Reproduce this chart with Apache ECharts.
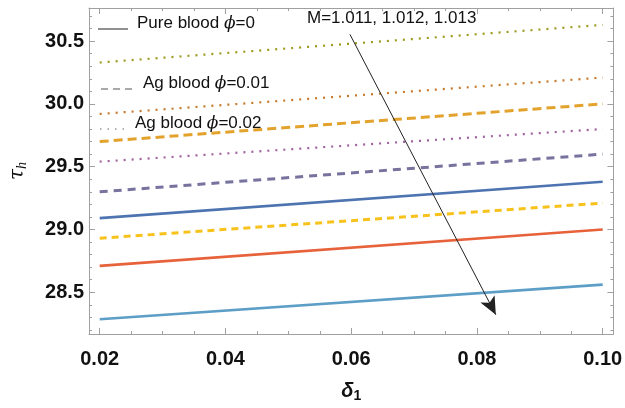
<!DOCTYPE html>
<html>
<head>
<meta charset="utf-8">
<script src="https://cdn.jsdelivr.net/npm/echarts@6/dist/echarts.min.js"></script>
<style>
  html, body { margin: 0; padding: 0; background: #fff; }
  #chart { width: 625px; height: 408px; }
</style>
</head>
<body>
<div id="chart"></div>
<script>
// delta_1 endpoints, the curves are straight lines
const deltaValues = [0.02, 0.10]

// pure blood, phi = 0 (solid)
const pureM1 = [29.09, 29.38]
const pureM2 = [28.71, 29.00]
const pureM3 = [28.285, 28.56]
// Ag blood, phi = 0.01 (dashed)
const ag01M1 = [29.70, 30.00]
const ag01M2 = [29.30, 29.60]
const ag01M3 = [28.93, 29.21]
// Ag blood, phi = 0.02 (dotted)
const ag02M1 = [30.33, 30.63]
const ag02M2 = [29.92, 30.21]
const ag02M3 = [29.54, 29.80]

const xTicks = [0.02, 0.04, 0.06, 0.08, 0.10]
const xMinorTicks = [0.025, 0.03, 0.035, 0.045, 0.05, 0.055, 0.065, 0.07, 0.075, 0.085, 0.09, 0.095]
const yTicks = [28.5, 29.0, 29.5, 30.0, 30.5]
const yMinorTicks = [28.2, 28.3, 28.4, 28.6, 28.7, 28.8, 28.9, 29.1, 29.2, 29.3, 29.4,
  29.6, 29.7, 29.8, 29.9, 30.1, 30.2, 30.3, 30.4, 30.6, 30.7]

const X_MIN = 0.0183
const X_MAX = 0.1017
const Y_MIN = 28.167
const Y_MAX = 30.764

const frameColor = '#a0a0a0'
const labelFont = { fontFamily: 'Liberation Sans', fontWeight: 'bold', fontSize: 20, color: '#111' }

const toPoints = (vals) => vals.map((v, i) => [deltaValues[i], v])

const makeLine = (name, vals, color, type, width) => ({
  name,
  type: 'line',
  data: toPoints(vals),
  symbol: 'none',
  silent: true,
  lineStyle: { color, type, width, cap: 'butt' }
})

const tickAxis = (position, values, len, showLine, extra) => Object.assign({
  type: 'value',
  position,
  min: position === 'bottom' || position === 'top' ? X_MIN : Y_MIN,
  max: position === 'bottom' || position === 'top' ? X_MAX : Y_MAX,
  axisLine: { show: showLine, onZero: false, lineStyle: { color: frameColor, width: 1 } },
  axisTick: { show: true, inside: true, length: len, customValues: values, lineStyle: { color: frameColor } },
  axisLabel: { show: false },
  splitLine: { show: false }
}, extra || {})

const legendText = (text, left, top) => ({
  type: 'text', left, top, z: 10,
  style: {
    text, fontFamily: 'Liberation Sans', fontSize: 17, fill: '#111',
    rich: { p: { fontFamily: 'DejaVu Serif', fontStyle: 'italic', fontSize: 17, fill: '#111' } }
  }
})

const chart = echarts.init(document.getElementById('chart'), null, { renderer: 'canvas' })

const option = {
  animation: false,
  backgroundColor: '#fff',
  grid: { left: 81, right: 11, top: 8, bottom: 65 },
  xAxis: [
    tickAxis('bottom', xTicks, 6, true, {
      axisLabel: Object.assign({ show: true, customValues: xTicks, margin: 15, formatter: (v) => v.toFixed(2) }, labelFont),
      name: '{d|δ}{s|1}',
      nameLocation: 'middle',
      nameGap: 45,
      nameTextStyle: {
        rich: {
          d: { fontFamily: 'Liberation Sans', fontStyle: 'italic', fontWeight: 'bold', fontSize: 20, color: '#111' },
          s: { fontFamily: 'Liberation Sans', fontWeight: 'bold', fontSize: 14, color: '#111', verticalAlign: 'bottom', padding: [10, 0, 0, 0] }
        }
      }
    }),
    tickAxis('bottom', xMinorTicks, 3, false),
    tickAxis('top', xTicks, 6, true),
    tickAxis('top', xMinorTicks, 3, false)
  ],
  yAxis: [
    tickAxis('left', yTicks, 6, true, {
      axisLabel: Object.assign({ show: true, customValues: yTicks, margin: 5, formatter: (v) => v.toFixed(1) }, labelFont),
      name: '{t|τ}{s|h}',
      nameLocation: 'middle',
      nameGap: 60,
      nameRotate: 90,
      nameTextStyle: {
        rich: {
          t: { fontFamily: 'DejaVu Serif', fontStyle: 'italic', fontSize: 20, color: '#111' },
          s: { fontFamily: 'Liberation Serif', fontStyle: 'italic', fontSize: 14, color: '#111', padding: [8, 0, 0, 0] }
        }
      }
    }),
    tickAxis('left', yMinorTicks, 3, false),
    tickAxis('right', yTicks, 6, true),
    tickAxis('right', yMinorTicks, 3, false)
  ],
  series: [
    makeLine('ag02M1', ag02M1, '#9c9a1c', [2, 6], 2.2),
    makeLine('ag02M2', ag02M2, '#c8782a', [2, 6], 2.2),
    makeLine('ag02M3', ag02M3, '#a2609e', [2, 6], 2.2),
    makeLine('ag01M1', ag01M1, '#e3a22c', [9, 5], 3),
    makeLine('ag01M2', ag01M2, '#77739e', [8, 6], 3),
    makeLine('ag01M3', ag01M3, '#f7c21c', [7, 5], 3),
    makeLine('pureM1', pureM1, '#4d74b0', 'solid', 2.6),
    makeLine('pureM2', pureM2, '#e7623a', 'solid', 2.6),
    Object.assign(makeLine('pureM3', pureM3, '#5d9ec7', 'solid', 2.6), {
      markLine: {
        silent: true,
        symbol: ['none', 'arrow'],
        symbolSize: [12, 18],
        label: { show: false },
        lineStyle: { color: '#222', type: 'solid', width: 1 },
        data: [[{ coord: [0.0598, 30.554] }, { coord: [0.0830, 28.32] }]]
      }
    })
  ],
  graphic: [
    { type: 'line', shape: { x1: 98, y1: 29, x2: 128, y2: 29 }, style: { stroke: '#222', lineWidth: 1 } },
    { type: 'line', shape: { x1: 101, y1: 89, x2: 137, y2: 89 }, style: { stroke: '#555', lineWidth: 1.2, lineDash: [7, 5] } },
    { type: 'line', shape: { x1: 100, y1: 129, x2: 128, y2: 129 }, style: { stroke: '#666', lineWidth: 1.2, lineDash: [1.5, 6] } },
    legendText('Pure blood {p|ϕ}=0', 137, 15),
    legendText('Ag blood {p|ϕ}=0.01', 143, 75),
    legendText('Ag blood {p|ϕ}=0.02', 135, 115),
    {
      type: 'text', left: 307, top: 10, z: 10,
      style: { text: 'M=1.011, 1.012, 1.013', fontFamily: 'Liberation Sans', fontSize: 17, fill: '#111' }
    }
  ]
}

chart.setOption(option)
</script>
</body>
</html>
